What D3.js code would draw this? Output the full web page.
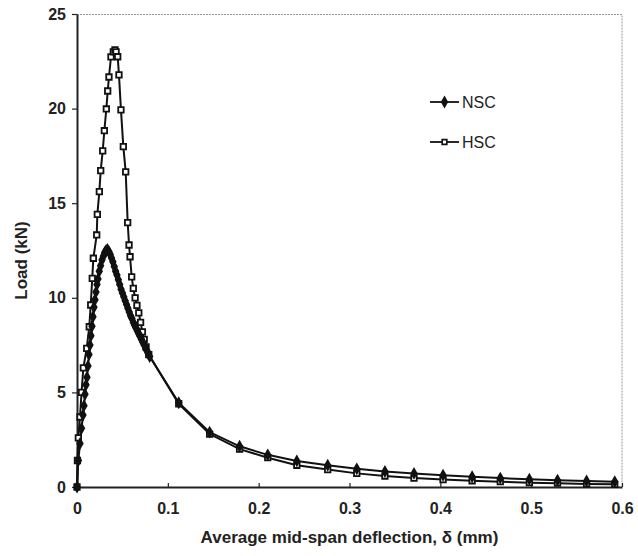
<!DOCTYPE html>
<html>
<head>
<meta charset="utf-8">
<script src="https://cdn.jsdelivr.net/npm/d3@7"></script>
<style>
  body { margin: 0; background: #fff; }
  text { font-family: Arial, "Liberation Sans", sans-serif; }
</style>
</head>
<body>
<div id="chart"></div>
<script>
var svgWidth = 638;
var svgHeight = 556;

var margin = { top: 14, right: 16, bottom: 69, left: 77 };
var width = svgWidth - margin.left - margin.right;
var height = svgHeight - margin.top - margin.bottom;

// values
var nscX = [0, 0.0015, 0.0033, 0.005, 0.0066, 0.0077, 0.0088, 0.0099, 0.011, 0.0121,
  0.0132, 0.0143, 0.0154, 0.0165, 0.0176, 0.0187, 0.0198, 0.0209, 0.022, 0.0231,
  0.0245, 0.026, 0.0275, 0.029, 0.0305, 0.032, 0.0335, 0.035, 0.0365, 0.038,
  0.0395, 0.041, 0.0425, 0.044, 0.0455, 0.047, 0.0485, 0.05, 0.0515, 0.053,
  0.0545, 0.056, 0.0575, 0.059, 0.0605, 0.062, 0.0635, 0.065, 0.0665, 0.068,
  0.0695, 0.071, 0.0725, 0.074, 0.0755, 0.077, 0.0785, 0.08,
  0.112, 0.146, 0.179, 0.21, 0.242, 0.276, 0.308, 0.339, 0.371, 0.403,
  0.435, 0.466, 0.498, 0.529, 0.561, 0.592];
var nscY = [0, 1.4, 2.3, 3.1, 3.8, 4.3, 4.9, 5.4, 5.8, 6.4,
  7.0, 7.5, 8.0, 8.5, 9.0, 9.5, 9.9, 10.3, 10.7, 11.0,
  11.4, 11.7, 12.0, 12.2, 12.4, 12.5, 12.55, 12.45, 12.3, 12.1,
  11.9, 11.65, 11.4, 11.2, 10.95, 10.7, 10.45, 10.25, 10.05, 9.85,
  9.65, 9.45, 9.25, 9.05, 8.9, 8.7, 8.55, 8.4, 8.25, 8.1,
  7.95, 7.8, 7.65, 7.5, 7.35, 7.2, 7.05, 6.9,
  4.45, 2.9, 2.15, 1.7, 1.38, 1.15, 0.96, 0.82, 0.72, 0.62,
  0.54, 0.47, 0.41, 0.36, 0.32, 0.28];

var hscX = [0, 0.0005, 0.0015, 0.0033, 0.005, 0.007, 0.0107, 0.0135, 0.0151, 0.0168,
  0.018, 0.0217, 0.0224, 0.0246, 0.0261, 0.0283, 0.0301, 0.0323, 0.0338, 0.0352,
  0.0374, 0.040, 0.0418, 0.043, 0.0448, 0.0462, 0.0484, 0.051, 0.0536, 0.0558,
  0.0573, 0.0584, 0.0602, 0.062, 0.064, 0.066, 0.068, 0.07, 0.072, 0.074,
  0.076, 0.079,
  0.112, 0.146, 0.179, 0.21, 0.242, 0.276, 0.308, 0.339, 0.371, 0.403,
  0.435, 0.466, 0.498, 0.529, 0.561, 0.592];
var hscY = [0, 1.4, 2.6, 3.7, 5.0, 6.3, 7.33, 8.47, 9.62, 11.03,
  12.09, 13.32, 14.41, 15.61, 16.72, 17.77, 18.83, 19.98, 20.93, 21.67,
  22.73, 23.0, 23.1, 23.0, 22.74, 21.78, 19.93, 17.99, 16.66, 13.97,
  12.79, 12.17, 11.11, 10.5, 10.0, 9.6, 9.2, 8.7, 8.2, 7.8,
  7.4, 7.0,
  4.4, 2.8, 2.0, 1.55, 1.15, 0.92, 0.72, 0.58, 0.47, 0.39,
  0.33, 0.28, 0.23, 0.2, 0.16, 0.14];

var xTicks = [0, 0.1, 0.2, 0.3, 0.4, 0.5, 0.6];
var yTicks = [0, 5, 10, 15, 20, 25];
var seriesNames = ["NSC", "HSC"];

var nscData = nscX.map((x, i) => ({ x: x, y: nscY[i] }));
var hscData = hscX.map((x, i) => ({ x: x, y: hscY[i] }));

var svg = d3.select("#chart")
  .append("svg")
  .attr("width", svgWidth)
  .attr("height", svgHeight);

var chartGroup = svg.append("g")
  .attr("transform", `translate(${margin.left}, ${margin.top})`);

var xScale = d3.scaleLinear().domain([0, 0.6]).range([0, width]);
var yScale = d3.scaleLinear().domain([0, 25]).range([height, 0]);

// top and right frame, light dotted
chartGroup.append("path")
  .attr("d", `M0,0.5H${width}V${height}`)
  .attr("fill", "none")
  .attr("stroke", "#999")
  .attr("stroke-width", 1)
  .attr("stroke-dasharray", "2,1");

// axes
var bottomAxis = d3.axisBottom(xScale)
  .tickValues(xTicks)
  .tickSizeInner(-4)
  .tickSizeOuter(0)
  .tickPadding(16)
  .tickFormat(d => d === 0 ? "0" : d3.format(".1f")(d));
var leftAxis = d3.axisLeft(yScale)
  .tickValues(yTicks)
  .tickSize(5)
  .tickSizeOuter(0)
  .tickPadding(6);

var xAxis = chartGroup.append("g")
  .attr("transform", `translate(0, ${height})`)
  .call(bottomAxis);
var yAxis = chartGroup.append("g")
  .call(leftAxis);

[xAxis, yAxis].forEach(function(ax) {
  ax.select(".domain").attr("stroke", "#222").attr("stroke-width", 2);
  ax.selectAll(".tick line").attr("stroke", "#222").attr("stroke-width", 1.2);
  ax.selectAll(".tick text")
    .attr("fill", "#222")
    .attr("font-size", "16px")
    .attr("font-weight", "bold");
});
xAxis.selectAll(".tick text").attr("dy", "0.71em");

// axis titles
chartGroup.append("text")
  .attr("x", width / 2)
  .attr("y", height + 56)
  .attr("text-anchor", "middle")
  .attr("font-size", "17px")
  .attr("font-weight", "bold")
  .attr("fill", "#222")
  .text("Average mid-span deflection, δ (mm)");

chartGroup.append("text")
  .attr("transform", "rotate(-90)")
  .attr("x", -height / 2 - 10)
  .attr("y", -50)
  .attr("text-anchor", "middle")
  .attr("font-size", "17px")
  .attr("font-weight", "bold")
  .attr("fill", "#222")
  .text("Load (kN)");

var line = d3.line()
  .x(d => xScale(d.x))
  .y(d => yScale(d.y));

var diamond = d3.symbol().type(d3.symbolDiamond).size(48);
var square = d3.symbol().type(d3.symbolSquare).size(30);

// HSC series
chartGroup.append("path")
  .datum(hscData)
  .attr("d", line)
  .attr("fill", "none")
  .attr("stroke", "#111")
  .attr("stroke-width", 2);

// NSC series
chartGroup.append("path")
  .datum(nscData)
  .attr("d", line)
  .attr("fill", "none")
  .attr("stroke", "#111")
  .attr("stroke-width", 2);

chartGroup.selectAll(".hsc")
  .data(hscData)
  .enter()
  .append("path")
  .attr("class", "hsc")
  .attr("transform", d => `translate(${xScale(d.x)}, ${yScale(d.y)})`)
  .attr("d", square)
  .attr("fill", "#fff")
  .attr("stroke", "#111")
  .attr("stroke-width", 1.8);

chartGroup.selectAll(".nsc")
  .data(nscData)
  .enter()
  .append("path")
  .attr("class", "nsc")
  .attr("transform", d => `translate(${xScale(d.x)}, ${yScale(d.y)})`)
  .attr("d", diamond)
  .attr("fill", "#111");

// legend
var legend = svg.append("g")
  .attr("transform", "translate(430, 102)");

seriesNames.forEach(function(name, i) {
  var g = legend.append("g").attr("transform", `translate(0, ${i * 40})`);
  g.append("line")
    .attr("x1", 0).attr("x2", 29)
    .attr("stroke", "#111").attr("stroke-width", 1.8);
  g.append("path")
    .attr("transform", "translate(14.5, 0)")
    .attr("d", i === 0 ? diamond : d3.symbol().type(d3.symbolSquare).size(22))
    .attr("fill", i === 0 ? "#111" : "#fff")
    .attr("stroke", i === 0 ? "none" : "#111")
    .attr("stroke-width", 1.6);
  g.append("text")
    .attr("x", 32)
    .attr("dy", "0.36em")
    .attr("font-size", "16px")
    .attr("fill", "#222")
    .text(name);
});
</script>
</body>
</html>
